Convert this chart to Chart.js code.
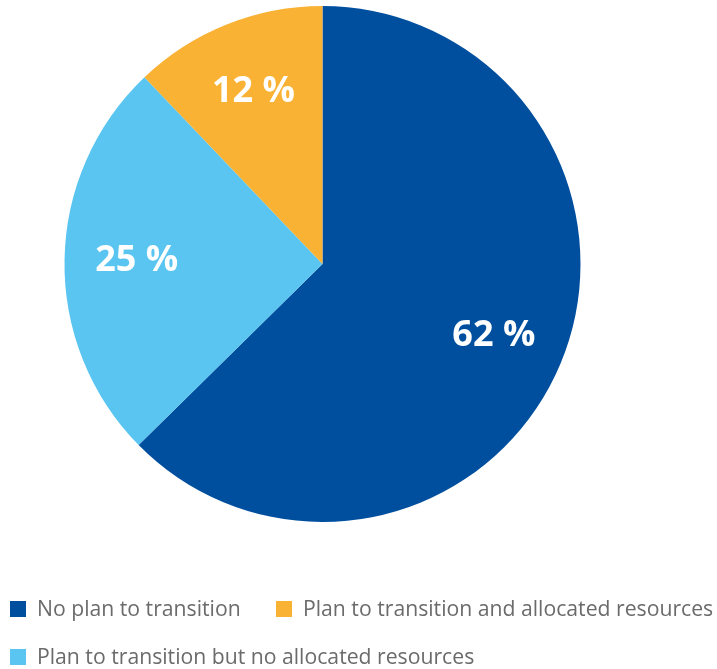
<!DOCTYPE html>
<html>
<head>
<meta charset="utf-8">
<script src="https://cdn.jsdelivr.net/npm/chart.js@4/dist/chart.umd.min.js"></script>
<style>
  html, body { margin: 0; padding: 0; background: #fff; }
  #wrap { position: relative; width: 717px; height: 669px; }
  #leyenda { position: absolute; left: 10px; top: 594px; width: 707px;
    font-family: "Open Sans", sans-serif; font-size: 21.2px; color: #6b6b6b; }
  .item { position: absolute; white-space: nowrap; line-height: 30px; }
  .caja { display: inline-block; width: 16px; height: 16px; vertical-align: -1px; margin-right: 11px; }
</style>
</head>
<body>
<div id="wrap">
  <canvas id="grafo" width="717" height="669"></canvas>
  <div id="leyenda"></div>
</div>
<script>
// datos del grafico
const categorias = ['No plan to transition', 'Plan to transition but no allocated resources', 'Plan to transition and allocated resources'];
const porcentajes = [62, 25, 12];
const colores = ['#004f9f', '#5bc5f1', '#f9b233'];

// orden y posicion de la leyenda (fila, columna)
const ordenLeyenda = [0, 2, 1];
const posLeyenda = [[0, 0], [0, 266], [48, 0]];

// plugin para escribir el porcentaje dentro de cada porcion
const etiquetas = {
  id: 'etiquetas',
  afterDatasetsDraw(chart) {
    const ctx = chart.ctx;
    const meta = chart.getDatasetMeta(0);
    ctx.save();
    ctx.fillStyle = '#fff';
    ctx.font = 'bold 36px "Open Sans"';
    ctx.textAlign = 'center';
    ctx.textBaseline = 'middle';
    meta.data.forEach((arco, i) => {
      const p = arco.getProps(['x', 'y', 'startAngle', 'endAngle', 'outerRadius'], true);
      const medio = (p.startAngle + p.endAngle) / 2;
      const r = p.outerRadius * 0.72;
      ctx.fillText(porcentajes[i] + ' %', p.x + Math.cos(medio) * r, p.y + Math.sin(medio) * r);
    });
    ctx.restore();
  }
};

new Chart(document.getElementById('grafo'), {
  type: 'pie',
  data: {
    labels: categorias,
    datasets: [{
      data: porcentajes,
      backgroundColor: colores,
      borderWidth: 0
    }]
  },
  options: {
    responsive: false,
    animation: false,
    layout: { padding: { top: 6, right: 72, bottom: 147, left: 0 } },
    plugins: {
      legend: { display: false },
      tooltip: { enabled: false }
    }
  },
  plugins: [etiquetas]
});

// leyenda en html
const $leyenda = document.getElementById('leyenda');
ordenLeyenda.forEach((idx, k) => {
  const div = document.createElement('div');
  div.className = 'item';
  div.style.top = (posLeyenda[k][0] - 1) + 'px';
  div.style.left = posLeyenda[k][1] + 'px';
  const caja = document.createElement('span');
  caja.className = 'caja';
  caja.style.background = colores[idx];
  div.appendChild(caja);
  div.appendChild(document.createTextNode(categorias[idx]));
  $leyenda.appendChild(div);
});
</script>
</body>
</html>
